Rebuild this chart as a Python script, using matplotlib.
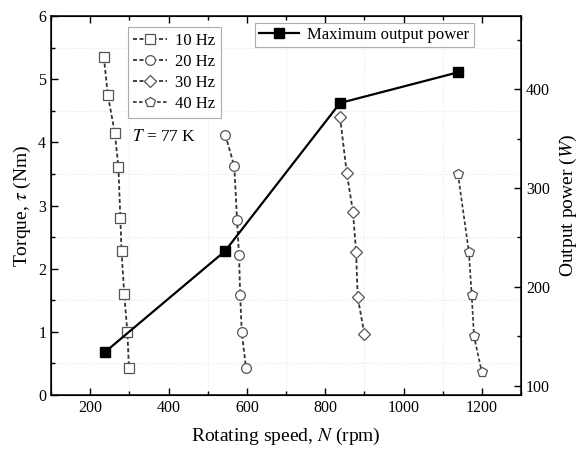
import matplotlib
matplotlib.use("Agg")
import matplotlib.pyplot as plt
from matplotlib.ticker import MultipleLocator

plt.rcParams['font.family'] = ['Liberation Serif', 'DejaVu Serif']
plt.rcParams['mathtext.fontset'] = 'stix'

# torque vs speed at four drive frequencies
speed_10hz = [235, 245, 263, 272, 277, 280, 287, 295, 299]
torque_10hz = [5.35, 4.75, 4.15, 3.61, 2.81, 2.28, 1.60, 0.99, 0.42]
speed_20hz = [545, 568, 575, 580, 583, 587, 598]
torque_20hz = [4.12, 3.62, 2.77, 2.22, 1.58, 1.00, 0.42]
speed_30hz = [838, 855, 871, 879, 883, 900]
torque_30hz = [4.40, 3.52, 2.90, 2.26, 1.55, 0.97]
speed_40hz = [1139, 1167, 1174, 1180, 1200]
torque_40hz = [3.50, 2.26, 1.59, 0.93, 0.36]

# maximum output power (right axis)
speed_pmax = [238, 544, 838, 1139]
power_pmax = [134, 236, 386, 417]

fig = plt.figure(figsize=(5.85, 4.5), dpi=100)
ax = fig.add_axes([0.0872, 0.1222, 0.8034, 0.8422])
ax2 = ax.twinx()

dash = (0, (2.2, 1.4))
series = [
	(speed_10hz, torque_10hz, 's', '10 Hz', 6.5, 1.3),
	(speed_20hz, torque_20hz, 'o', '20 Hz', 7, 1.3),
	(speed_30hz, torque_30hz, 'D', '30 Hz', 6, 1.3),
	(speed_40hz, torque_40hz, 'p', '40 Hz', 7.5, 1.2),
]
for xs, ys, mk, lab, ms, lw in series:
	ax.plot(xs, ys, linestyle=dash, color='#333333', linewidth=lw,
		marker=mk, markersize=ms, markerfacecolor='white',
		markeredgecolor='#555555', markeredgewidth=0.9, label=lab)

ax2.plot(speed_pmax, power_pmax, color='black', linewidth=1.6,
	marker='s', markersize=6.5, markerfacecolor='black',
	markeredgecolor='black', label='Maximum output power')

ax.set_xlim(100, 1300)
ax.set_ylim(0, 6)
ax2.set_ylim(90.5, 474)

ax.xaxis.set_major_locator(MultipleLocator(200))
ax.xaxis.set_minor_locator(MultipleLocator(100))
ax.yaxis.set_major_locator(MultipleLocator(1))
ax.yaxis.set_minor_locator(MultipleLocator(0.5))
ax2.yaxis.set_major_locator(MultipleLocator(100))
ax2.yaxis.set_minor_locator(MultipleLocator(50))

ax.tick_params(which='both', direction='in', top=True, labelsize=11.5)
ax.tick_params(which='major', length=5, width=1)
ax.tick_params(which='minor', length=3, width=1)
ax2.tick_params(which='both', direction='in', labelsize=11.5)
ax2.tick_params(which='major', length=5, width=1)
ax2.tick_params(which='minor', length=3, width=1)
for sp in ax.spines.values():
	sp.set_linewidth(1.1)

ax.grid(True, which='minor', color='0.9', linestyle=':', linewidth=0.8)

ax.set_xlabel('Rotating speed, $\\mathit{N}$ (rpm)', fontsize=14, labelpad=7)
ax.set_ylabel('Torque, $\\mathit{\\tau}$ (Nm)', fontsize=14, labelpad=4)
ax2.set_ylabel('Output power ($\\mathit{W}$)', fontsize=14, labelpad=6)

ax.text(0.172, 0.681, '$\\mathit{T}$ = 77 K', transform=ax.transAxes,
	fontsize=12.5, va='center', ha='left')

leg1 = ax.legend(loc='upper left', bbox_to_anchor=(0.163, 0.971),
	fontsize=12, frameon=True, fancybox=False, edgecolor='0.6',
	handlelength=2.0, borderpad=0.35, labelspacing=0.3, handletextpad=0.5,
	borderaxespad=0)
leg1.get_frame().set_linewidth(0.8)
leg2 = ax2.legend(loc='upper left', bbox_to_anchor=(0.434, 0.982),
	fontsize=12, frameon=True, fancybox=False, edgecolor='0.6',
	handlelength=2.4, borderpad=0.25, handletextpad=0.5, borderaxespad=0)
leg2.get_frame().set_linewidth(0.8)

fig.savefig('out.png', dpi=100)
